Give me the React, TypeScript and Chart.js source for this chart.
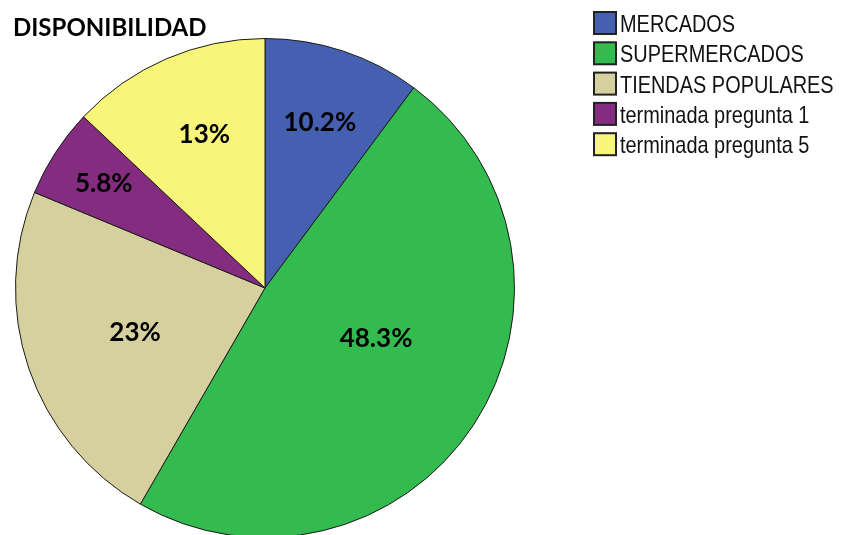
import React, { useEffect, useRef } from "react";
import { Chart, registerables } from "chart.js";

Chart.register(...registerables);

const categories = [
  "MERCADOS",
  "SUPERMERCADOS",
  "TIENDAS POPULARES",
  "terminada pregunta 1",
  "terminada pregunta 5",
];
const percentages = [10.2, 48.3, 23, 5.8, 13];
const colors = ["#4560B0", "#33BB50", "#D6CF9E", "#842C80", "#F9F47A"];
const labelRadius = [0.7, 0.49, 0.55, 0.77, 0.66];
const labelAngleShift = [0, -0.15, 0, 0, 0.03];
const title = "DISPONIBILIDAD";

const overlayPlugin = {
  id: "overlay",
  afterDatasetsDraw(chart: any) {
    const ctx = chart.ctx as CanvasRenderingContext2D;
    const meta = chart.getDatasetMeta(0);
    ctx.save();
    // percent labels
    ctx.fillStyle = "#000";
    ctx.font = "bold 26px Lato, 'Open Sans', sans-serif";
    ctx.textAlign = "center";
    ctx.textBaseline = "middle";
    meta.data.forEach((arc: any, i: number) => {
      const { x, y, startAngle, endAngle, outerRadius } = arc.getProps(
        ["x", "y", "startAngle", "endAngle", "outerRadius"],
        true
      );
      const mid = (startAngle + endAngle) / 2 + labelAngleShift[i];
      const r = outerRadius * labelRadius[i];
      ctx.fillText(
        `${percentages[i]}%`,
        x + Math.cos(mid) * r,
        y + Math.sin(mid) * r
      );
    });
    // title
    ctx.textAlign = "left";
    ctx.textBaseline = "alphabetic";
    ctx.font = "bold 24px Lato, 'Open Sans', sans-serif";
    ctx.fillText(title, 13, 36);
    // legend
    const lx = 594;
    const ly = 12;
    const step = 30.3;
    categories.forEach((c, i) => {
      const top = ly + i * step;
      ctx.fillStyle = colors[i];
      ctx.fillRect(lx, top, 22, 22);
      ctx.strokeStyle = "#222";
      ctx.lineWidth = 2;
      ctx.strokeRect(lx, top, 22, 22);
      ctx.save();
      ctx.translate(620, top + 20);
      ctx.scale(0.83, 1);
      ctx.fillStyle = "#111";
      ctx.font = "24px 'Liberation Sans', Arial, sans-serif";
      ctx.fillText(c, 0, 0);
      ctx.restore();
    });
    ctx.restore();
  },
};

export default function App() {
  const ref = useRef<HTMLCanvasElement>(null);
  useEffect(() => {
    if (!ref.current) return;
    const chart = new Chart(ref.current, {
      type: "pie",
      data: {
        labels: categories,
        datasets: [
          {
            data: percentages,
            backgroundColor: colors,
            borderColor: "#1a1a1a",
            borderWidth: 1,
          },
        ],
      },
      options: {
        animation: false,
        responsive: true,
        maintainAspectRatio: false,
        layout: { padding: { left: 15, top: 38, right: 336, bottom: 62 } },
        plugins: {
          legend: { display: false },
          title: { display: false },
          tooltip: { enabled: false },
        },
      },
      plugins: [overlayPlugin],
    });
    return () => chart.destroy();
  }, []);
  return (
    <div
      style={{
        position: "fixed",
        left: 0,
        top: 0,
        width: 851,
        height: 535,
        overflow: "hidden",
        background: "#fff",
      }}
    >
      <div style={{ position: "relative", width: 851, height: 600 }}>
        <canvas ref={ref} />
      </div>
    </div>
  );
}
